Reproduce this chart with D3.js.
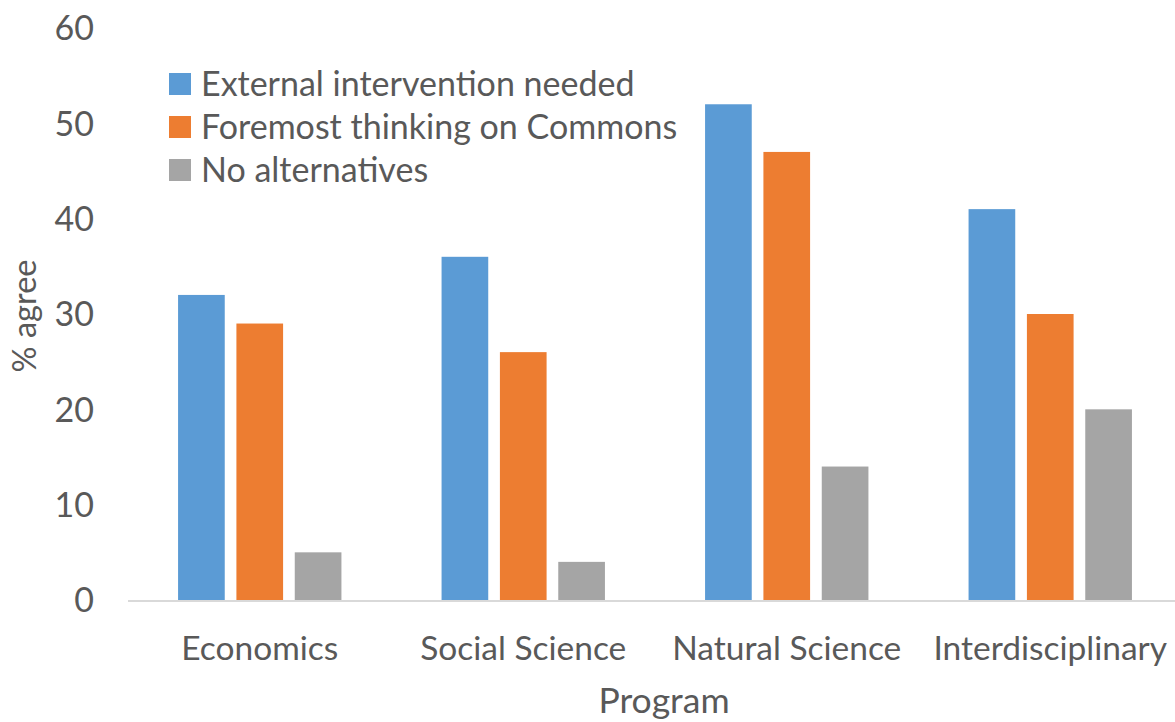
<!DOCTYPE html>
<html><head><meta charset="utf-8">
<script src="https://cdn.jsdelivr.net/npm/d3@7"></script>
<style>body{margin:0;background:#fff;} text{font-family:Lato, "Open Sans", sans-serif; fill:#595959;}</style>
</head><body><svg id="c" width="1175" height="722"></svg>
<script>
const categories = ["Economics","Social Science","Natural Science","Interdisciplinary"];
const seriesNames = ["External intervention needed","Foremost thinking on Commons","No alternatives"];
const external = [32,36,52,41];
const foremost = [29,26,47,30];
const noAlt = [5,4,14,20];
const yTicks = [0,10,20,30,40,50,60];
const colors = ["#5B9BD5","#ED7D31","#A5A5A5"];
const seriesValues = [external, foremost, noAlt];

const svg = d3.select("#c");
const mLeft = 128, mRight = 1182, mTop = 28, mBottom = 600;
const x = d3.scaleBand().domain(categories).range([mLeft,mRight]).paddingInner(0.38).paddingOuter(0.19);
const xs = d3.scaleBand().domain(d3.range(3)).range([0,x.bandwidth()]).paddingInner(0.2);
const y = d3.scaleLinear().domain([0,60]).range([mBottom,mTop]);

const g = svg.append("g");
categories.forEach((c,i)=>{
  seriesValues.forEach((vals,s)=>{
    g.append("rect").attr("x",x(c)+xs(s)).attr("y",y(vals[i])).attr("width",xs.bandwidth()).attr("height",y(0)-y(vals[i])).attr("fill",colors[s]);
  });
});
svg.append("line").attr("x1",mLeft).attr("x2",1175).attr("y1",y(0)+1).attr("y2",y(0)+1).attr("stroke","#d9d9d9").attr("stroke-width",2);

svg.append("g").selectAll("text").data(yTicks).join("text")
  .attr("x",94).attr("y",d=>y(d)).attr("dy","0.36em").attr("text-anchor","end").attr("font-size",34).text(d=>d);
svg.append("g").selectAll("text").data(categories).join("text")
  .attr("x",d=>x(d)+x.bandwidth()/2).attr("y",648).attr("dy","0.35em").attr("text-anchor","middle").attr("font-size",33.5).text(d=>d);
svg.append("text").attr("x",664).attr("y",701).attr("dy","0.35em").attr("text-anchor","middle").attr("font-size",35.5).text("Program");
svg.append("text").attr("transform","translate(25,316) rotate(-90)").attr("dy","0.35em").attr("text-anchor","middle").attr("font-size",32.5).text("% agree");

const lg = svg.append("g");
seriesNames.forEach((n,i)=>{
  const yy = 84 + i*43;
  lg.append("rect").attr("x",169).attr("y",yy-11).attr("width",22).attr("height",22).attr("fill",colors[i]);
  lg.append("text").attr("x",201).attr("y",yy).attr("dy","0.35em").attr("font-size",34).text(n);
});
</script></body></html>
